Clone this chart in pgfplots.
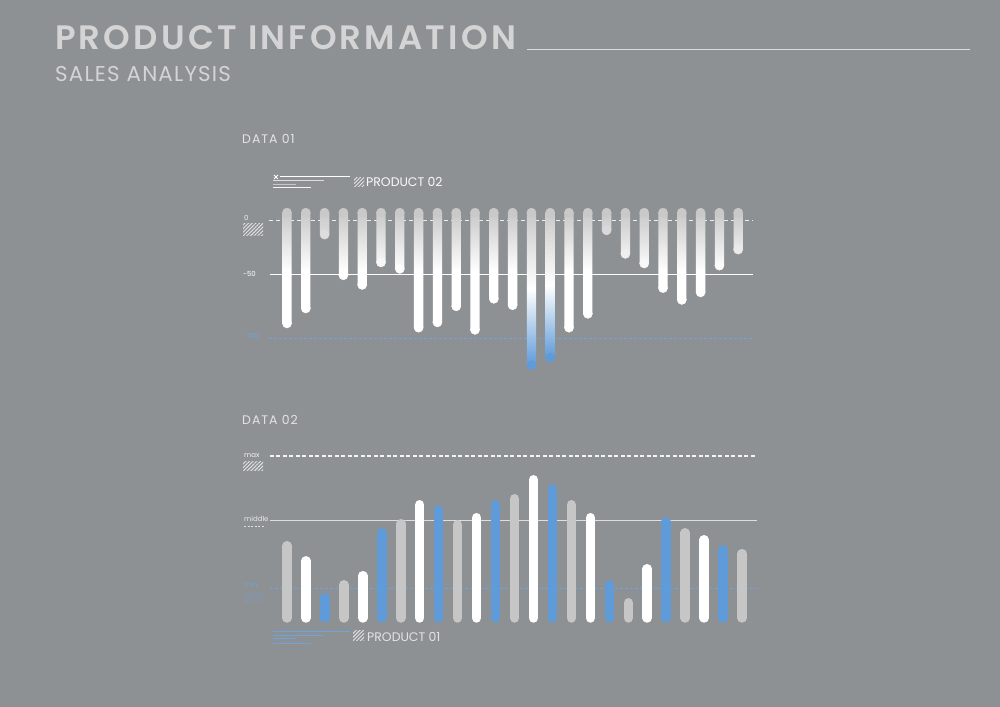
\documentclass[border=0pt]{standalone}
\usepackage{fontspec}
\setmainfont{Poppins}
\newfontfamily\titlefont{Poppins SemiBold}
\usepackage{pgfplots}
\pgfplotsset{compat=1.18}
\usetikzlibrary{patterns.meta}
\definecolor{bg}{HTML}{8E9194}
\definecolor{bargray}{HTML}{C6C6C6}
\definecolor{barblue}{HTML}{5F9BD9}
\definecolor{topgray}{HTML}{C9C9C9}
\definecolor{lineblue}{HTML}{6FA3DB}
\definecolor{titlegray}{HTML}{D4D4D4}
\begin{document}
\begin{tikzpicture}
\begin{scope}[x=1bp,y=1bp]
\path[use as bounding box, fill=bg] (0,0) rectangle (1000,707);
% titles
\node[anchor=base west, inner sep=0, text=titlegray, font=\fontsize{34}{40}\titlefont\addfontfeature{LetterSpace=9.5}] at (55,657) {PRODUCT INFORMATION};
\draw[color=white!70!bg, line width=1bp] (527,657) -- (970,657);
\node[anchor=base west, inner sep=0, text=titlegray, font=\fontsize{21.5}{25}\selectfont\addfontfeature{LetterSpace=5.5}] at (55,625) {SALES ANALYSIS};
\node[anchor=base west, inner sep=0, text=white!75!bg, font=\fontsize{12.5}{14}\selectfont\addfontfeature{LetterSpace=8}] at (242,563) {DATA 01};
\node[anchor=base west, inner sep=0, text=white!75!bg, font=\fontsize{12.5}{14}\selectfont\addfontfeature{LetterSpace=8}] at (242,282) {DATA 02};
\end{scope}

% ---------- top chart ----------
\begin{axis}[at={(240bp,507bp)}, anchor=north west, scale only axis,
  width=520bp, height=180bp, xmin=-1.5, xmax=26.16, ymin=-156.4, ymax=11.85,
  hide axis, clip=false, y filter/.expression={y-7.5}]
\draw[color=white!85!bg, line width=1bp, dash pattern=on 4bp off 3bp] (axis cs:0.04,-7.5) -- (axis cs:25.79,-7.5);
\draw[color=white, line width=1.2bp] (axis cs:0.1,-57.5) -- (axis cs:25.79,-57.5);
\draw[color=lineblue, line width=1bp, dash pattern=on 3bp off 2bp] (axis cs:0.04,-117.8) -- (axis cs:25.79,-117.8);
% grey-to-white bars (one shading over the whole group)
\addplot[ybar, bar width=9.3bp, bar shift=0pt, draw=none, top color=topgray, bottom color=white, middle color=white]
 coordinates {(1,-96) (2,-82) (3,-13) (4,-51) (5,-60) (6,-39) (7,-45) (8,-100) (9,-95) (10,-80) (11,-102) (12,-73) (13,-79) (16,-100) (17,-87) (18,-9) (19,-31) (20,-40) (21,-63) (22,-74) (23,-67) (24,-42) (25,-27)};
\addplot[only marks, mark=*, mark size=4.6bp, color=white]
 coordinates {(1,-96) (2,-82) (4,-51) (5,-60) (8,-100) (9,-95) (10,-80) (11,-102) (12,-73) (13,-79) (16,-100) (17,-87) (21,-63) (22,-74) (23,-67)};
\addplot[only marks, mark=*, mark size=4.6bp, color=white!37!topgray] coordinates {(3,-13)};
\addplot[only marks, mark=*, mark size=4.6bp, color=white!30!topgray] coordinates {(18,-9)};
\addplot[only marks, mark=*, mark size=4.6bp, color=white!85!topgray] coordinates {(6,-39)};
\addplot[only marks, mark=*, mark size=4.6bp, color=white!96!topgray] coordinates {(7,-45)};
\addplot[only marks, mark=*, mark size=4.6bp, color=white!70!topgray] coordinates {(19,-31)};
\addplot[only marks, mark=*, mark size=4.6bp, color=white!87!topgray] coordinates {(20,-40)};
\addplot[only marks, mark=*, mark size=4.6bp, color=white!90!topgray] coordinates {(24,-42)};
\addplot[only marks, mark=*, mark size=4.6bp, color=white!63!topgray] coordinates {(25,-27)};
% blue bars
\addplot[ybar, bar width=9.3bp, bar shift=0pt, draw=none, top color=topgray, bottom color=barblue, middle color=white]
 coordinates {(14,-135)};
\addplot[ybar, bar width=9.3bp, bar shift=0pt, draw=none, top color=topgray, bottom color=barblue, middle color=white]
 coordinates {(15,-128)};
\addplot[only marks, mark=*, mark size=4.6bp, color=barblue]
 coordinates {(14,-135) (15,-128)};
% top caps
\addplot[only marks, mark=*, mark size=4.6bp, color=topgray]
 coordinates {(1,7.5) (2,7.5) (3,7.5) (4,7.5) (5,7.5) (6,7.5) (7,7.5) (8,7.5) (9,7.5) (10,7.5) (11,7.5) (12,7.5) (13,7.5) (14,7.5) (15,7.5) (16,7.5) (17,7.5) (18,7.5) (19,7.5) (20,7.5) (21,7.5) (22,7.5) (23,7.5) (24,7.5) (25,7.5)};
\end{axis}

% ---------- bottom chart ----------
\begin{axis}[at={(240bp,267bp)}, anchor=north west, scale only axis,
  width=520bp, height=200bp, xmin=-1.48, xmax=25.95, ymin=-13.58, ymax=109.88,
  hide axis, clip=false]
\draw[color=white!90!bg, line width=1.2bp, dash pattern=on 4bp off 2.5bp] (axis cs:0.10,100) -- (axis cs:25.79,100);
\draw[color=white!70!bg, line width=1.2bp] (axis cs:0.10,60) -- (axis cs:25.79,60);
\draw[color=lineblue, line width=1bp, dash pattern=on 3bp off 2bp] (axis cs:0.10,17.9) -- (axis cs:25.79,17.9);
\addplot[ycomb, draw=bargray, line width=9.5bp, line cap=round]
 coordinates {(1,44.6) (4,20.5) (7,58.2) (10,57.6) (13,73.6) (16,69.9) (19,9.4) (22,52.6) (25,39.7)};
\addplot[ycomb, draw=white, line width=9.5bp, line cap=round]
 coordinates {(2,35.3) (5,26.1) (8,69.9) (11,61.9) (14,85.3) (17,61.9) (20,30.4) (23,48.3)};
\addplot[ycomb, draw=barblue, line width=9.5bp, line cap=round]
 coordinates {(3,12.5) (6,52.6) (9,66.8) (12,69.9) (15,79.8) (18,20.5) (21,59.4) (24,42.1)};
\end{axis}

\begin{scope}[x=1bp,y=1bp]
% top chart labels and legend
\node[anchor=base west, inner sep=0, text=white!85!bg, font=\fontsize{7}{8}\selectfont] at (244,486) {0};
\fill[pattern={Lines[angle=45,distance=2.6bp,line width=0.9bp]}, pattern color=white!75!bg] (243,471) rectangle (263,483);
\node[anchor=base west, inner sep=0, text=white, font=\fontsize{7}{8}\selectfont] at (243,430) {-50};
\node[anchor=base west, inner sep=0, text=lineblue, font=\fontsize{7}{8}\selectfont] at (244,368) {-100};
\draw[white, line width=0.9bp] (274,528) -- (278,532) (274,532) -- (278,528);
\draw[white, line width=1bp] (280,530) -- (350,530);
\draw[white!70!bg, line width=1bp] (273,526) -- (324,526);
\draw[white!50!bg, line width=1bp] (273,522) -- (296,522);
\draw[white!90!bg, line width=1bp] (273,519) -- (311,519);
\fill[pattern={Lines[angle=45,distance=2.6bp,line width=0.9bp]}, pattern color=white!75!bg] (354,520) rectangle (364,529);
\node[anchor=base west, inner sep=0, text=white!95!bg, font=\fontsize{12.5}{14}\selectfont] at (366,520) {PRODUCT 02};
% bottom chart labels and legend
\node[anchor=base west, inner sep=0, text=white!90!bg, font=\fontsize{7}{8}\selectfont] at (244,249) {max};
\fill[pattern={Lines[angle=45,distance=2.6bp,line width=0.9bp]}, pattern color=white!75!bg] (243,236) rectangle (263,245);
\node[anchor=base west, inner sep=0, text=white!80!bg, font=\fontsize{7}{8}\selectfont] at (244,185) {middle};
\draw[white!70!bg, line width=0.8bp, dash pattern=on 2bp off 1.5bp] (244,181) -- (264,181);
\node[anchor=base west, inner sep=0, text=lineblue, font=\fontsize{7}{8}\selectfont] at (244,119) {min};
\fill[pattern={Dots[distance=2bp,radius=0.5bp]}, pattern color=lineblue] (244,104) rectangle (263,115);
\draw[lineblue, line width=0.9bp] (273,76) -- (350,76);
\draw[lineblue, line width=0.9bp] (273,72) -- (323,72);
\draw[lineblue, line width=0.9bp] (273,69) -- (295,69);
\draw[lineblue, line width=0.9bp] (273,64) -- (311,64);
\fill[pattern={Lines[angle=45,distance=2.6bp,line width=0.9bp]}, pattern color=white!75!bg] (353,66) rectangle (364,76);
\node[anchor=base west, inner sep=0, text=white!75!bg, font=\fontsize{12.5}{14}\selectfont] at (367,65) {PRODUCT 01};
\end{scope}
\end{tikzpicture}
\end{document}
